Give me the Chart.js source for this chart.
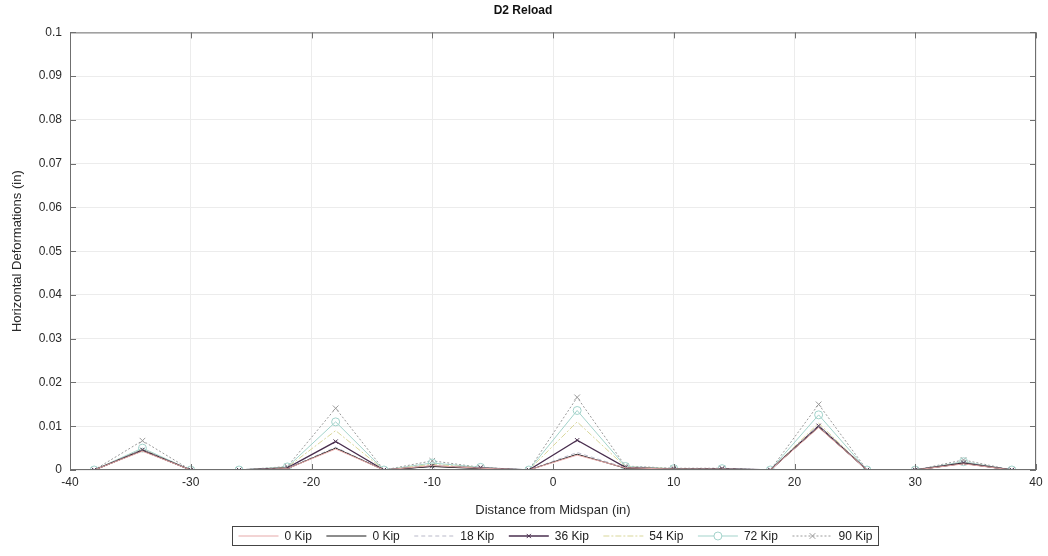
<!DOCTYPE html>
<html>
<head>
<meta charset="utf-8">
<title>D2 Reload</title>
<script src="https://cdn.jsdelivr.net/npm/chart.js@4.4.1/dist/chart.umd.min.js"></script>
<style>
  html, body { margin: 0; padding: 0; background: #fff; }
</style>
</head>
<body>
<canvas id="d2" width="1048" height="556"></canvas>
<script>
/* ------------------
  data
-------------------*/
// gauge positions along the beam (in)
var distance = [-38, -34, -30, -26, -22, -18, -14, -10, -6, -2, 2, 6, 10, 14, 18, 22, 26, 30, 34, 38];

// horizontal deformations (in) for each load step
var kip0a = [0, 0.0043, 0, 0, 0.0003, 0.0048, 0, 0.0010, 0.0004, 0, 0.0034, 0.0005, 0.0002, 0.0002, 0, 0.0097, 0, 0, 0.0014, 0];
var kip0b = [0, 0.0044, 0, 0, 0.0003, 0.0050, 0, 0.0008, 0.0003, 0, 0.0036, 0.0004, 0.0002, 0.0002, 0, 0.0098, 0, 0, 0.0015, 0];
var kip18 = [0, 0.0045, 0, 0, 0.0004, 0.0052, 0, 0.0010, 0.0004, 0, 0.0040, 0.0005, 0.0002, 0.0003, 0, 0.0100, 0, 0, 0.0015, 0];
var kip36 = [0, 0.0046, 0, 0, 0.0005, 0.0065, 0, 0.0009, 0.0005, 0, 0.0068, 0.0006, 0.0002, 0.0003, 0, 0.0101, 0, 0, 0.0016, 0];
var kip54 = [0, 0.0047, 0, 0, 0.0006, 0.0090, 0, 0.0013, 0.0005, 0, 0.0110, 0.0007, 0.0003, 0.0003, 0, 0.0107, 0, 0, 0.0017, 0];
var kip72 = [0, 0.0050, 0, 0, 0.0007, 0.0110, 0, 0.0016, 0.0006, 0, 0.0136, 0.0008, 0.0003, 0.0003, 0, 0.0126, 0, 0, 0.0019, 0];
var kip90 = [0, 0.0067, 0, 0, 0.0008, 0.0141, 0, 0.0021, 0.0006, 0, 0.0166, 0.0009, 0.0004, 0.0004, 0, 0.0150, 0, 0, 0.0023, 0];

var loadLabels = ['0 Kip', '0 Kip', '18 Kip', '36 Kip', '54 Kip', '72 Kip', '90 Kip'];
var xTicks = [-40, -30, -20, -10, 0, 10, 20, 30, 40];
var yTicks = [0, 0.01, 0.02, 0.03, 0.04, 0.05, 0.06, 0.07, 0.08, 0.09, 0.1];

// line look for each load step
var styles = [
  { color: '#e6a9a9', dash: [],     width: 1,   marker: false,      radius: 0 },
  { color: '#1a1a1a', dash: [],     width: 1,   marker: false,      radius: 0 },
  { color: '#b9b9c9', dash: [4, 3], width: 1,   marker: false,      radius: 0 },
  { color: '#4a2f4f', dash: [],     width: 1.3, marker: 'crossRot', radius: 3 },
  { color: '#d9d79a', dash: [6, 2, 2, 2], width: 1, marker: false,  radius: 0 },
  { color: '#a3d3cb', dash: [],     width: 1,   marker: 'circle',   radius: 4 },
  { color: '#9a9a9a', dash: [2, 2], width: 1,   marker: 'crossRot', radius: 4 }
];

var series = [kip0a, kip0b, kip18, kip36, kip54, kip72, kip90];

var datasets = series.map(function (vals, i) {
  var s = styles[i];
  return {
    label: loadLabels[i],
    data: distance.map(function (d, j) { return { x: d, y: vals[j] }; }),
    borderColor: s.color,
    backgroundColor: 'rgba(0,0,0,0)',
    borderWidth: s.width,
    borderDash: s.dash,
    pointStyle: s.marker || 'circle',
    pointRadius: s.radius,
    pointBorderColor: s.color,
    pointBorderWidth: 1,
    pointBackgroundColor: 'rgba(0,0,0,0)',
    tension: 0
  };
});

/* ------------------
  box, inner ticks and boxed legend
-------------------*/
var frame = {
  id: 'frame',
  afterDraw: function (chart) {
    var ctx = chart.ctx, a = chart.chartArea;
    var xs = chart.scales.x, ys = chart.scales.y;
    ctx.save();
    ctx.strokeStyle = '#6f6f6f';
    ctx.lineWidth = 1;
    ctx.setLineDash([]);
    ctx.strokeRect(a.left + 0.5, a.top + 0.5, a.right - a.left - 1, a.bottom - a.top - 1);
    ctx.beginPath();
    xTicks.forEach(function (v) {
      var px = Math.round(xs.getPixelForValue(v)) + 0.5;
      ctx.moveTo(px, a.bottom); ctx.lineTo(px, a.bottom - 6);
      ctx.moveTo(px, a.top); ctx.lineTo(px, a.top + 6);
    });
    yTicks.forEach(function (v) {
      var py = Math.round(ys.getPixelForValue(v)) + 0.5;
      ctx.moveTo(a.left, py); ctx.lineTo(a.left + 6, py);
      ctx.moveTo(a.right, py); ctx.lineTo(a.right - 6, py);
    });
    ctx.stroke();

    // legend row, spread across a fixed-width box
    ctx.font = '12px "Liberation Sans", Arial, sans-serif';
    ctx.textBaseline = 'middle';
    var boxW = 646, sample = 40, gap = 6, pad = 6;
    var used = 2 * pad;
    loadLabels.forEach(function (t) { used += sample + gap + ctx.measureText(t).width; });
    var after = (boxW - used) / (loadLabels.length - 1);
    var left = 232.5, top = 526.5, h = 19;
    ctx.strokeStyle = '#444';
    ctx.strokeRect(left, top, boxW, h);
    var cy = top + h / 2;
    var x = left + pad;
    chart.data.datasets.forEach(function (ds, i) {
      var s = styles[i];
      ctx.strokeStyle = s.color;
      ctx.lineWidth = s.width;
      ctx.setLineDash(s.dash);
      ctx.beginPath();
      ctx.moveTo(x, cy); ctx.lineTo(x + sample, cy);
      ctx.stroke();
      ctx.setLineDash([]);
      if (s.marker) {
        ctx.lineWidth = 1;
        ctx.fillStyle = '#fff';
        Chart.helpers.drawPoint(ctx, { pointStyle: s.marker, radius: s.radius, borderWidth: 1 }, x + sample / 2, cy);
      }
      x += sample + gap;
      ctx.fillStyle = '#222';
      ctx.fillText(ds.label, x, cy + 0.5);
      x += ctx.measureText(ds.label).width + after;
    });
    ctx.restore();
  }
};

function trimTick(v) {
  return String(parseFloat(Number(v).toFixed(3)));
}

var chart_D2 = new Chart(document.getElementById('d2'), {
  type: 'line',
  data: { datasets: datasets },
  plugins: [frame],
  options: {
    responsive: false,
    animation: false,
    devicePixelRatio: 1,
    layout: { padding: { left: 10, right: 12, top: 0, bottom: 38 } },
    plugins: {
      legend: { display: false },
      tooltip: { enabled: false },
      title: {
        display: true,
        text: 'D2 Reload',
        color: '#111',
        font: { family: '"Liberation Sans", Arial, sans-serif', size: 12, weight: 'bold' },
        padding: { top: 3, bottom: 15 }
      }
    },
    scales: {
      x: {
        type: 'linear',
        min: -40,
        max: 40,
        afterBuildTicks: function (scale) { scale.ticks = xTicks.map(function (v) { return { value: v }; }); },
        afterFit: function (scale) { scale.height = 48; },
        ticks: {
          color: '#2a2a2a',
          padding: 5,
          maxRotation: 0,
          font: { family: '"Liberation Sans", Arial, sans-serif', size: 12 },
          callback: function (v) { return String(v); }
        },
        grid: { color: '#ececec', drawTicks: false },
        border: { display: false },
        title: {
          display: true,
          text: 'Distance from Midspan (in)',
          color: '#2a2a2a',
          font: { family: '"Liberation Sans", Arial, sans-serif', size: 13 },
          padding: { top: 4, bottom: 0 }
        }
      },
      y: {
        min: 0,
        max: 0.1,
        afterBuildTicks: function (scale) { scale.ticks = yTicks.map(function (v) { return { value: v }; }); },
        afterFit: function (scale) { scale.width = 60; },
        ticks: {
          color: '#2a2a2a',
          padding: 8,
          font: { family: '"Liberation Sans", Arial, sans-serif', size: 12 },
          callback: trimTick
        },
        grid: { color: '#ececec', drawTicks: false },
        border: { display: false },
        title: {
          display: true,
          text: 'Horizontal Deformations (in)',
          color: '#2a2a2a',
          font: { family: '"Liberation Sans", Arial, sans-serif', size: 13 },
          padding: { top: 0, bottom: 4 }
        }
      }
    }
  }
});
</script>
</body>
</html>
